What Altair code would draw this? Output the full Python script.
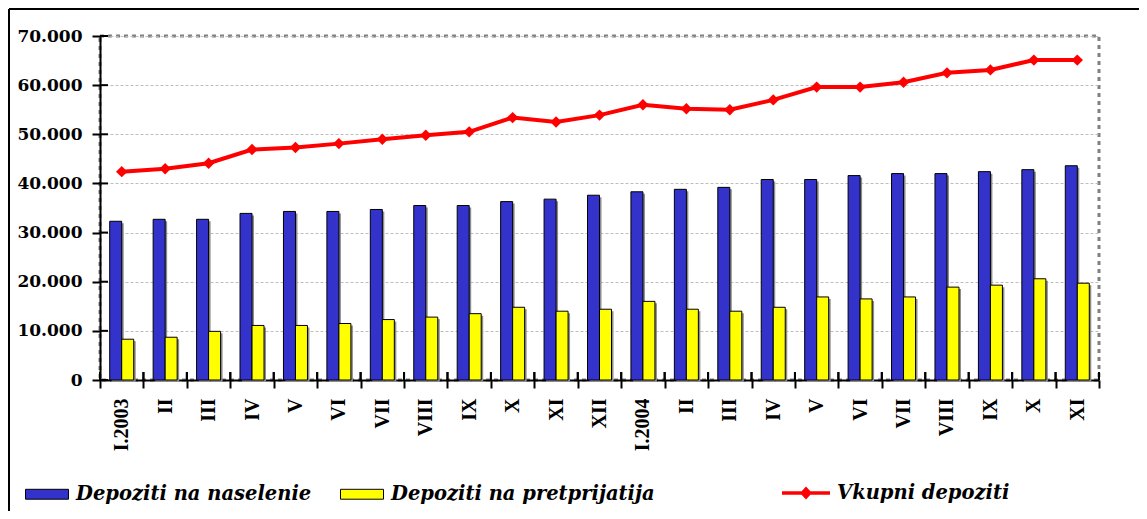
import altair as alt
import pandas as pd

# ---- data ----
labels = ["I.2003", "II", "III", "IV", "V", "VI", "VII", "VIII", "IX", "X", "XI", "XII",
          "I.2004", "II", "III", "IV", "V", "VI", "VII", "VIII", "IX", "X", "XI"]
naselenie = [32300, 32700, 32700, 33900, 34300, 34300, 34700, 35500, 35500, 36300, 36800, 37600,
             38300, 38800, 39200, 40800, 40800, 41600, 42000, 42000, 42400, 42800, 43600]
pretprijatija = [8300, 8700, 9900, 11100, 11100, 11500, 12300, 12800, 13500, 14800, 14000, 14400,
                 16000, 14400, 14000, 14800, 16900, 16500, 16900, 18900, 19300, 20600, 19700]
vkupno = [42400, 43000, 44100, 46900, 47300, 48100, 49000, 49800, 50500, 53400, 52500, 53900,
          56000, 55200, 55000, 57000, 59600, 59600, 60600, 62500, 63100, 65100, 65100]
y_ticks = [0, 10000, 20000, 30000, 40000, 50000, 60000, 70000]
s1 = "Depoziti na naselenie"
s2 = "Depoziti na pretprijatija"
s3 = "Vkupni depoziti"

keys = [f"{i:02d}|{l}" for i, l in enumerate(labels)]

bars_df = pd.DataFrame({"key": keys * 2,
                        "serija": [s1] * len(keys) + [s2] * len(keys),
                        "v": naselenie + pretprijatija})
line_df = pd.DataFrame({"key": keys, "v": vkupno, "linija": [s3] * len(keys)})
tick_df = pd.DataFrame({"v": y_ticks})
key_df = pd.DataFrame({"key": keys})

W, H = 999, 344

xscale = alt.Scale(paddingInner=0, paddingOuter=0)
yscale = alt.Scale(domain=[0, 70000], nice=False, zero=True)

xax = alt.Axis(title=None, labelExpr="split(datum.value,'|')[1]", labelAngle=-90,
               labelAlign="right", labelBaseline="middle", labelFont="Liberation Serif",
               labelFontWeight="bold", labelFontSize=20, labelColor="black", labelPadding=10,
               tickBand="extent", tickSize=8, tickWidth=2, tickColor="black",
               domainColor="black", domainWidth=2, grid=False, labelOverlap=False)
yax = alt.Axis(title=None, values=y_ticks,
               labelExpr="replace(format(datum.value, ','), ',', '.')",
               labelFont="DejaVu Serif", labelFontWeight="bold", labelFontSize=17,
               labelColor="black", labelPadding=10, tickSize=8, tickWidth=2, tickColor="black",
               domainColor="black", domainWidth=2, grid=True, gridColor="#bdbdbd",
               gridDash=[3, 2], gridWidth=1)


def X(**kw):
    return alt.X("key:N", sort=keys, scale=xscale, axis=xax, **kw)


def Y():
    return alt.Y("v:Q", scale=yscale, axis=yax)


legend_font = dict(labelFont="DejaVu Serif", labelFontStyle="italic", labelFontWeight="bold",
                   labelFontSize=19.5, labelColor="black", labelOffset=7, labelLimit=500)

bar_legend = alt.Legend(orient="none", legendX=-75, legendY=436, direction="horizontal",
                        title=None, symbolType="M-1,-0.23H1V0.23H-1Z", symbolSize=1849,
                        symbolStrokeColor="black", symbolStrokeWidth=1, symbolOpacity=1,
                        columnPadding=26, padding=0, **legend_font)
line_legend = alt.Legend(orient="none", legendX=682, legendY=433, direction="horizontal",
                         title=None,
                         symbolType="M-1,-0.07H1V0.07H-1Z M0,-0.27L0.25,0L0,0.27L-0.25,0Z",
                         symbolSize=2304, symbolStrokeWidth=0, symbolOpacity=1, padding=0,
                         **legend_font)

fill_enc = alt.Fill("serija:N", scale=alt.Scale(domain=[s1, s2], range=["#3333cc", "#ffff00"]),
                    legend=bar_legend)

frame = alt.Data(values=[{}])
frame_left = alt.Chart(frame).mark_rule(color="black", strokeWidth=2).encode(
    x=alt.value(-91), y=alt.value(-27), y2=alt.value(H + 131))
frame_top = alt.Chart(frame).mark_rule(color="black", strokeWidth=2).encode(
    x=alt.value(-91), x2=alt.value(W + 40), y=alt.value(-27))

base_bars = alt.Chart(bars_df)
shadow1 = base_bars.transform_filter(alt.datum.serija == s1).mark_bar(
    width=12, xOffset=-4, yOffset=2, color="#8c8c8c").encode(x=X(), y=Y())
shadow2 = base_bars.transform_filter(alt.datum.serija == s2).mark_bar(
    width=12, xOffset=8, yOffset=2, color="#8c8c8c").encode(x=X(), y=Y())
blue = base_bars.transform_filter(alt.datum.serija == s1).mark_bar(
    width=12, xOffset=-6, stroke="black", strokeWidth=1).encode(x=X(), y=Y(), fill=fill_enc)
yellow = base_bars.transform_filter(alt.datum.serija == s2).mark_bar(
    width=12, xOffset=6, stroke="black", strokeWidth=1).encode(x=X(), y=Y(), fill=fill_enc)

xt0 = alt.Chart(key_df).mark_rule(color="black", strokeWidth=2).encode(
    x=X(bandPosition=0), y=alt.value(H), y2=alt.value(H - 8))
xt1 = alt.Chart(key_df).mark_rule(color="black", strokeWidth=2).encode(
    x=X(bandPosition=1), y=alt.value(H), y2=alt.value(H - 8))
yt = alt.Chart(tick_df).mark_rule(color="black", strokeWidth=2).encode(
    y=Y(), x=alt.value(0), x2=alt.value(8))

line = alt.Chart(line_df).mark_line(color="#ff0000", strokeWidth=4).encode(x=X(), y=Y())
points = alt.Chart(line_df).mark_point(filled=True, shape="diamond", size=130, opacity=1).encode(
    x=X(), y=Y(),
    color=alt.Color("linija:N", scale=alt.Scale(domain=[s3], range=["#ff0000"]),
                    legend=line_legend))

chart = alt.layer(frame_left, frame_top, shadow1, shadow2, blue, yellow, xt0, xt1, yt,
                  line, points).properties(
    width=W, height=H,
    autosize=alt.AutoSizeParams(type="none"),
    padding={"left": 92, "top": 28, "right": 40, "bottom": 131},
    background="white",
).configure_view(stroke="#808080", strokeDash=[4, 4], strokeWidth=3)

chart.save("out.html", embed_options={"renderer": "svg", "actions": False})
